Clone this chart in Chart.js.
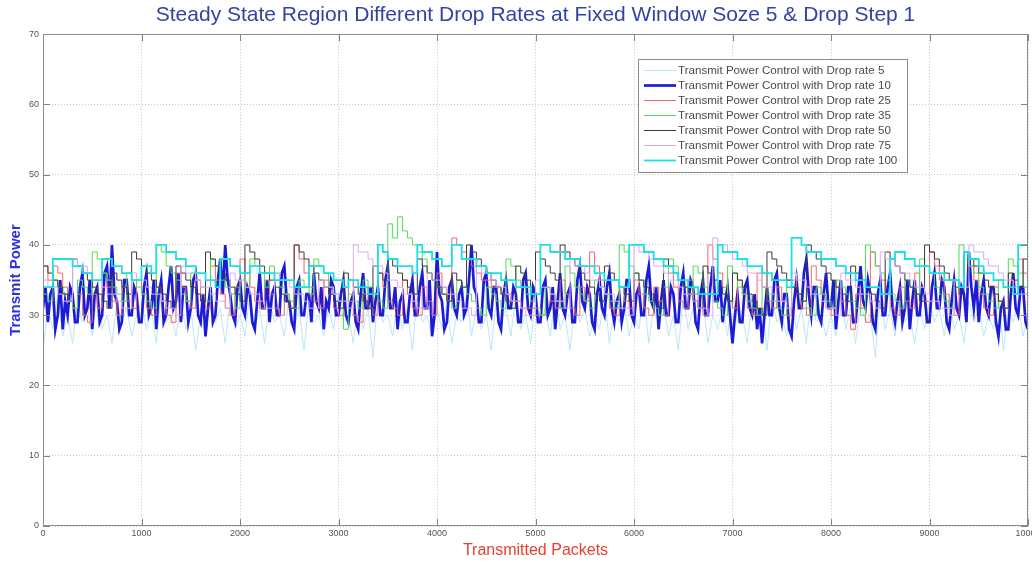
<!DOCTYPE html>
<html>
<head>
<meta charset="utf-8">
<title>Transmit Power Control</title>
<script src="https://cdn.jsdelivr.net/npm/chart.js@4.4.0/dist/chart.umd.min.js"></script>
<style>
  html, body { margin: 0; padding: 0; background: #fff; overflow: hidden; width: 1032px; height: 562px; }
  #wrap { position: absolute; left: 0; top: 0; width: 1070px; height: 562px; }
</style>
</head>
<body>
<div id="wrap"><canvas id="c" width="1070" height="562"></canvas></div>
<script>
// Transmit power per series; drop rate 10 is sampled every 25 packets,
// the others every 50 packets (packet 0 .. 10000)
const packetStep = 50;
const fineStep = 25;

const rate5 = [
  25,31,28,33,27,30,26,32,29,31,27,33,28,30,26,32,29,31,27,30,
  32,28,31,26,33,29,30,27,32,28,31,25,30,27,33,29,31,26,32,28,
  30,27,33,28,31,26,32,29,30,27,33,28,31,25,32,29,30,27,31,28,
  33,29,30,26,32,28,31,24,33,29,30,27,32,28,31,25,33,29,30,27,
  31,28,32,26,30,29,33,27,31,28,30,25,32,29,31,27,33,28,30,26,
  32,29,31,27,33,28,30,25,32,29,31,27,30,28,33,26,31,29,32,27,
  30,28,33,26,31,29,32,27,30,25,33,28,31,29,32,26,30,28,31,27,
  33,29,30,26,32,28,31,25,33,29,30,27,32,28,31,26,33,29,30,27,
  30,27,33,28,31,26,32,29,30,24,33,28,31,27,32,29,30,26,31,28,
  32,29,31,27,33,28,30,26,32,29,31,27,30,28,33,25,31,29,32,27,30
];

const rate10 = [
  31,34,29,33,34,28,30,35,28,32,30,34,33,29,29,34,36,30,31,35,
  28,33,34,29,30,36,37,31,40,33,32,28,29,35,35,30,30,34,33,29,
  29,34,36,30,31,35,28,33,35,29,30,34,37,31,32,36,29,34,34,29,
  31,35,36,30,29,33,27,31,34,29,30,35,38,33,40,35,33,30,29,34,
  35,31,30,34,33,29,28,32,36,31,31,35,29,33,34,30,30,36,37,32,
  32,29,28,34,35,30,30,33,33,29,36,32,31,34,28,32,31,35,34,30,
  30,33,35,30,29,32,33,29,28,33,36,31,31,34,29,32,34,30,30,35,
  37,31,31,34,28,32,33,29,29,33,35,30,30,34,36,31,31,35,27,30,
  39,33,32,28,29,34,35,31,30,33,34,30,31,35,40,34,33,29,29,35,
  36,31,30,34,34,29,28,33,35,31,31,34,33,29,29,35,36,31,30,34,
  33,29,29,34,35,30,31,34,28,32,36,31,30,33,34,29,29,35,37,32,
  31,34,33,29,28,33,35,31,30,34,36,31,29,32,33,29,31,35,35,30,
  29,33,34,30,30,35,37,32,31,34,28,32,35,30,30,34,33,29,29,34,
  36,31,31,35,34,29,28,33,35,30,30,34,37,32,32,35,29,32,34,30,
  26,30,33,29,29,34,35,31,30,33,28,31,26,30,34,30,30,35,36,31,
  29,33,33,28,27,32,35,31,31,36,38,33,30,34,34,30,29,33,36,31,
  31,35,28,32,35,30,30,34,34,29,29,33,37,32,31,35,33,29,28,33,
  35,30,30,34,36,31,29,32,34,29,31,35,28,32,35,30,30,34,33,29,
  29,34,36,31,31,35,34,29,28,32,35,31,30,34,33,29,39,34,31,35,
  29,33,35,31,30,34,34,29,27,31,32,28,28,33,36,31,30,34,34,29,
  28
];

const rate25 = [
  37,35,37,36,34,32,31,33,30,29,33,31,36,34,32,30,34,32,31,35,
  33,31,30,34,32,30,29,36,34,32,31,35,33,31,37,35,33,31,30,34,
  38,36,34,32,31,35,33,31,30,33,31,40,38,36,34,32,31,35,33,31,
  30,34,32,30,29,33,31,30,36,34,32,31,30,35,33,31,30,34,32,30,
  36,34,32,41,40,39,38,37,36,35,35,34,34,33,33,32,32,31,31,31,
  30,30,34,32,31,35,33,31,30,34,32,39,37,35,33,31,30,34,32,31,
  35,33,31,30,34,32,30,36,34,32,31,35,33,31,30,40,38,36,34,32,
  31,35,33,31,30,36,34,32,31,34,32,30,35,33,31,30,37,35,33,31,
  30,34,32,30,28,33,31,29,39,37,35,33,31,30,34,32,31,36,34,32,
  39,37,35,33,31,30,34,39,37,35,33,31,30,34,32,31,35,33,38,36,34
];

const rate35 = [
  33,32,35,34,33,32,31,35,34,33,39,38,36,35,34,33,32,36,35,34,
  33,32,31,40,39,37,36,35,33,32,36,35,34,32,38,37,35,34,33,31,
  35,34,38,37,36,34,37,36,34,33,32,31,35,34,33,38,37,36,34,33,
  32,28,33,32,31,35,34,33,32,31,43,41,44,42,41,40,39,38,36,35,
  34,33,32,31,35,34,33,32,31,30,34,33,32,31,38,37,35,34,33,32,
  31,30,34,33,32,31,37,36,34,33,32,31,35,34,33,32,31,40,39,37,
  36,35,33,32,31,30,34,38,37,35,34,33,37,36,34,33,32,31,30,37,
  36,34,33,32,31,30,34,33,32,31,30,35,34,33,32,31,30,34,33,32,
  31,35,34,33,32,31,30,40,39,37,36,35,33,32,31,35,34,33,38,37,
  36,34,33,32,31,35,40,39,37,36,34,33,32,31,35,34,38,37,36,34,33
];

const rate50 = [
  37,36,35,34,33,32,38,37,36,35,34,33,32,31,36,35,34,33,39,38,
  37,36,35,34,33,32,31,37,36,35,34,33,32,39,38,37,36,35,34,33,
  32,40,39,38,37,36,35,34,33,32,31,40,39,38,37,36,35,34,33,32,
  31,36,35,34,33,32,31,37,36,35,38,37,36,35,34,33,38,37,36,35,
  34,33,32,36,35,34,40,39,38,37,36,35,34,33,32,31,37,36,35,34,
  39,38,37,36,35,40,39,38,37,36,35,34,33,32,37,36,35,34,33,32,
  36,35,34,33,32,31,38,37,36,35,34,33,32,31,37,36,35,34,33,32,
  36,35,34,33,32,31,30,39,38,37,36,35,34,33,32,40,39,38,37,36,
  35,34,33,32,37,36,35,34,33,32,31,39,38,37,36,35,34,33,32,40,
  39,38,37,36,35,34,33,39,38,37,36,35,34,33,32,31,36,35,34,38,37
];

const rate75 = [
  35,34,34,33,32,32,38,37,37,36,35,35,34,33,33,32,31,31,36,35,
  35,34,33,33,32,31,31,30,37,36,36,35,34,34,33,32,32,31,36,35,
  35,34,33,33,32,31,31,36,35,35,34,33,33,32,31,31,35,34,34,33,
  32,32,31,40,39,39,38,37,37,36,35,35,34,33,33,32,31,31,36,35,
  35,34,33,33,32,31,31,30,37,36,36,35,34,34,33,32,32,31,30,30,
  35,34,34,33,32,32,31,38,37,37,36,35,35,34,33,33,32,31,31,30,
  40,39,39,38,37,37,36,35,35,34,33,33,32,31,31,30,41,40,40,39,
  38,38,37,36,36,35,34,34,33,32,32,31,36,35,35,34,33,33,32,31,
  31,30,36,35,35,34,33,33,32,31,39,38,38,37,36,36,35,34,34,33,
  32,32,31,31,30,35,34,34,40,39,39,38,37,37,36,35,35,34,33,33,32
];

const rate100 = [
  34,34,38,38,38,38,37,37,36,36,35,35,38,38,37,37,36,36,35,35,
  37,37,36,40,40,39,39,38,38,37,37,36,36,35,35,34,38,38,37,37,
  36,36,37,37,36,36,36,35,35,35,35,34,34,34,37,37,37,36,36,35,
  35,34,35,35,34,34,33,33,40,39,38,38,37,37,37,36,40,39,39,38,
  38,37,37,40,40,38,38,38,37,37,36,36,36,35,35,35,34,34,34,33,
  33,40,40,39,39,39,38,38,38,37,37,37,36,36,35,35,35,34,34,40,
  40,40,39,39,38,38,37,37,36,35,35,34,34,33,33,33,33,40,39,39,
  39,38,38,37,37,37,36,36,35,35,35,34,41,41,40,39,39,39,38,38,
  38,37,37,36,36,35,35,34,34,34,33,33,38,39,39,38,38,37,37,37,
  36,36,36,35,35,35,34,39,38,38,37,36,36,35,35,34,34,33,40,40,40
];

const dropRates = [5, 10, 25, 35, 50, 75, 100];
const seriesValues = [rate5, rate10, rate25, rate35, rate50, rate75, rate100];
const seriesSteps = [packetStep, fineStep, packetStep, packetStep, packetStep, packetStep, packetStep];

const xTickValues = [0, 1000, 2000, 3000, 4000, 5000, 6000, 7000, 8000, 9000, 10000];
const yTickValues = [0, 10, 20, 30, 40, 50, 60, 70];

// Line appearance per series
const lineColors  = ['#bde5f9', '#1c1cd6', '#f26868', '#52dc52', '#3a3a3a', '#d9aaf8', '#1ae0e8'];
const lineWidths  = [1, 2.7, 1, 1, 1, 1, 1.8];
const lineStepped = [false, false, true, true, true, true, true];

const FONT = '"Liberation Sans", Arial, Helvetica, sans-serif';

const datasets = seriesValues.map((vals, k) => ({
  label: 'Transmit Power Control with Drop rate ' + dropRates[k],
  data: vals.map((v, i) => ({ x: i * seriesSteps[k], y: v })),
  borderColor: lineColors[k],
  backgroundColor: lineColors[k],
  borderWidth: lineWidths[k],
  stepped: lineStepped[k],
  tension: 0,
  pointRadius: 0,
  fill: false,
  order: seriesValues.length - k
}));

// Boxed axes with inward ticks, plus a boxed legend inside the plot
const framePlugin = {
  id: 'framePlugin',
  afterDatasetsDraw(chart) {
    const { ctx, chartArea: a, scales } = chart;
    const xs = scales.x, ys = scales.y;
    ctx.save();
    ctx.setLineDash([]);

    ctx.strokeStyle = '#808080';
    ctx.lineWidth = 1;
    ctx.beginPath();
    xTickValues.forEach(v => {
      const px = Math.round(xs.getPixelForValue(v)) + 0.5;
      ctx.moveTo(px, a.bottom); ctx.lineTo(px, a.bottom - 7);
      ctx.moveTo(px, a.top); ctx.lineTo(px, a.top + 7);
    });
    yTickValues.forEach(v => {
      const py = Math.round(ys.getPixelForValue(v)) + 0.5;
      ctx.moveTo(a.left, py); ctx.lineTo(a.left + 7, py);
      ctx.moveTo(a.right, py); ctx.lineTo(a.right - 7, py);
    });
    ctx.stroke();

    ctx.strokeStyle = '#8c8c8c';
    ctx.strokeRect(Math.round(a.left) + 0.5, Math.round(a.top) + 0.5,
                   Math.round(a.width) - 1, Math.round(a.height) - 1);

    // legend
    const lx = Math.round(a.left) + 595, ly = Math.round(a.top) + 25;
    const lw = 269, lh = 113;
    ctx.fillStyle = '#ffffff';
    ctx.fillRect(lx, ly, lw, lh);
    ctx.strokeStyle = '#8c8c8c';
    ctx.lineWidth = 1;
    ctx.strokeRect(lx + 0.5, ly + 0.5, lw, lh);
    ctx.font = '11.6px ' + FONT;
    ctx.textBaseline = 'middle';
    ctx.textAlign = 'left';
    chart.data.datasets.forEach((ds, i) => {
      const yy = ly + 11.5 + i * 15;
      ctx.strokeStyle = ds.borderColor;
      ctx.lineWidth = ds.borderWidth;
      ctx.beginPath();
      ctx.moveTo(lx + 6, yy);
      ctx.lineTo(lx + 38, yy);
      ctx.stroke();
      ctx.fillStyle = '#4a4a4a';
      ctx.fillText(ds.label, lx + 40, yy + 0.5);
    });
    ctx.restore();
  }
};

new Chart(document.getElementById('c'), {
  type: 'line',
  data: { datasets },
  options: {
    responsive: false,
    devicePixelRatio: 1,
    animation: false,
    layout: { padding: { left: 6, right: 42, top: 0, bottom: 2 } },
    plugins: {
      legend: { display: false },
      tooltip: { enabled: false },
      title: {
        display: true,
        fullSize: false,
        text: 'Steady State Region Different Drop Rates at Fixed Window Soze 5 & Drop Step 1',
        color: '#3242a6',
        font: { family: FONT, size: 21, weight: 'normal' },
        padding: { top: 3, bottom: 6 }
      }
    },
    scales: {
      x: {
        type: 'linear',
        min: 0,
        max: 10000,
        afterBuildTicks: s => { s.ticks = xTickValues.map(v => ({ value: v })); },
        ticks: { color: '#555', font: { family: FONT, size: 9 }, padding: 2, maxRotation: 0, autoSkip: false,
                 callback: v => String(v) },
        grid: { color: '#c8c8c8', drawTicks: false, lineWidth: 1 },
        border: { display: false, dash: [1, 2] },
        title: {
          display: true,
          text: 'Transmitted Packets',
          color: '#e8402e',
          font: { family: FONT, size: 16, weight: 'normal' },
          padding: { top: 0, bottom: 0 }
        }
      },
      y: {
        min: 0,
        max: 70,
        afterBuildTicks: s => { s.ticks = yTickValues.map(v => ({ value: v })); },
        ticks: { color: '#555', font: { family: FONT, size: 9 }, padding: 4, callback: v => String(v) },
        grid: { color: '#c8c8c8', drawTicks: false, lineWidth: 1 },
        border: { display: false, dash: [1, 2] },
        title: {
          display: true,
          text: 'Transmit Power',
          color: '#2f2fe0',
          font: { family: FONT, size: 15, weight: 'bold' },
          padding: { top: 1, bottom: 0 }
        }
      }
    }
  },
  plugins: [framePlugin]
});
</script>
</body>
</html>
